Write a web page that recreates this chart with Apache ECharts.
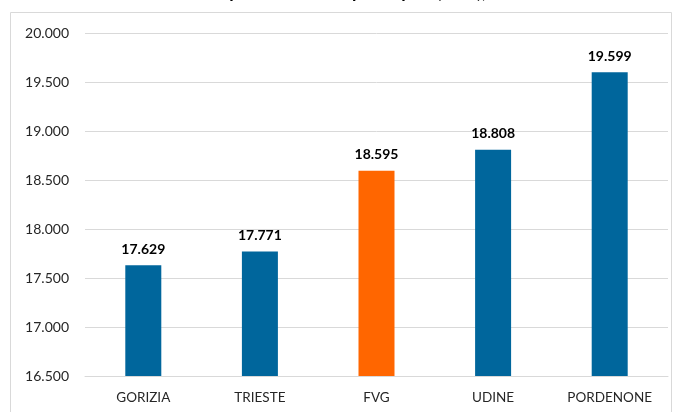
<!DOCTYPE html>
<html>
<head>
<meta charset="utf-8">
<script src="https://cdn.jsdelivr.net/npm/echarts@6/dist/echarts.min.js"></script>
<style>
html,body{margin:0;padding:0;background:#fff;}
#c{width:675px;height:412px;}
</style>
</head>
<body>
<div id="c"></div>
<script>
const categories = ['GORIZIA', 'TRIESTE', 'FVG', 'UDINE', 'PORDENONE'];
const values = [17629, 17771, 18595, 18808, 19599];
const barColors = ['#00669C', '#00669C', '#FF6600', '#00669C', '#00669C'];
const titleText = 'Reddito imponibile medio pro capite (euro), 2023';

function fmt(v) {
  return String(v).replace(/\B(?=(\d{3})+(?!\d))/g, '.');
}

const chart = echarts.init(document.getElementById('c'), null, {renderer: 'canvas'});
chart.setOption({
  animation: false,
  textStyle: {fontFamily: 'Lato'},
  graphic: [
    {type: 'rect', shape: {x: 10.5, y: 12.5, width: 661, height: 420}, style: {fill: 'none', stroke: '#d9d9d9', lineWidth: 1}, silent: true},
    {type: 'text', left: 'center', top: -17, style: {text: titleText, font: 'bold 18px Lato', fill: '#000'}}
  ],
  grid: {left: 85, right: 7, top: 33, bottom: 36},
  xAxis: {
    type: 'category',
    data: categories,
    axisTick: {show: false},
    axisLine: {show: true, lineStyle: {color: '#d9d9d9', width: 1}},
    axisLabel: {color: '#262626', fontSize: 13.5, margin: 15, fontFamily: 'Lato'}
  },
  yAxis: {
    type: 'value',
    min: 16500,
    max: 20000,
    interval: 500,
    axisLine: {show: false},
    axisTick: {show: false},
    splitLine: {lineStyle: {color: '#d9d9d9', width: 1}},
    axisLabel: {
      color: '#262626', fontSize: 14, margin: 16, fontFamily: 'Lato',
      formatter: function (v) { return fmt(v).indexOf('.') >= 0 ? fmt(v) : fmt(v); }
    }
  },
  series: [{
    type: 'bar',
    barWidth: 36,
    data: values.map((v, i) => ({value: v, itemStyle: {color: barColors[i]}})),
    label: {
      show: true,
      position: 'top',
      distance: 9,
      fontWeight: 'bold',
      fontSize: 14,
      color: '#000',
      fontFamily: 'Lato',
      formatter: p => fmt(p.value)
    }
  }]
});
</script>
</body>
</html>
